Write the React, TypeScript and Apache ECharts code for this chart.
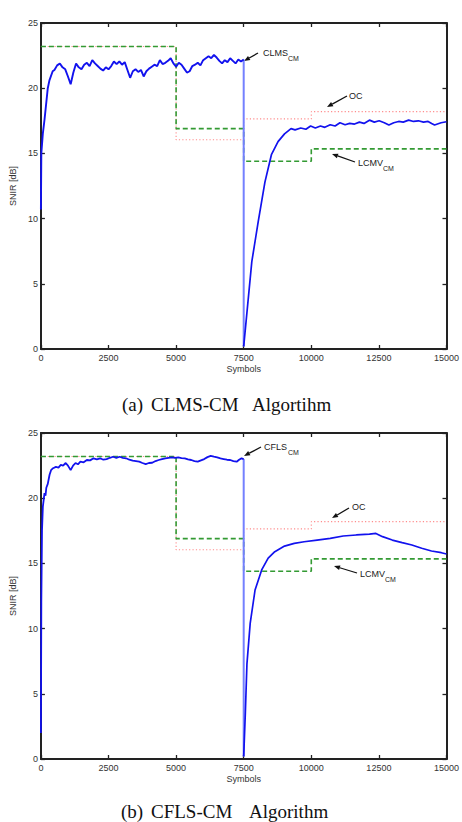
import React, { useEffect, useRef } from "react";
import * as echarts from "echarts";

// ---------- data ----------
const xTicks = [0, 2500, 5000, 7500, 10000, 12500, 15000];
const yTicks = [0, 5, 10, 15, 20, 25];

// (a) CLMS-CM
const clmsStart: [number, number][] = [
  [0, 10.7], [15, 15.0], [70, 16.5], [134, 17.6], [254, 20.0], [315, 20.6], [435, 21.3],
];
const clmsGridFirst = 500;
const clmsGridStep = 100;
const clmsNoisy = [
  21.4, 21.75, 21.9, 21.6, 21.45, 20.9, 20.3, 21.2, 21.9, 21.6,
  21.45, 21.8, 21.95, 21.7, 22.15, 21.9, 21.7, 21.5, 21.35, 21.6,
  21.45, 21.7, 22.05, 21.85, 22.05, 21.8, 22.0, 21.4, 20.8, 21.3,
  21.45, 21.25, 21.4, 20.9, 21.3, 21.5, 21.65, 21.8, 21.7, 22.15,
  21.85, 21.95, 22.1, 22.3, 21.9, 21.65, 21.95, 21.8, 21.5, 21.2,
  21.3, 21.7, 21.8, 21.95, 21.75, 22.15, 22.3, 22.45, 22.3, 22.55,
  22.35, 22.1, 21.9, 22.15, 22.0, 22.3, 22.1, 21.9, 22.2, 22.05,
  22.2,
];
const clmsRecovery: [number, number][] = [
  [7500, 0.2], [7800, 6.7], [8040, 9.8], [8285, 12.8], [8525, 14.9], [8770, 15.9],
  [9010, 16.5], [9250, 16.9], [9400, 16.8], [9610, 16.95], [9800, 16.85], [9975, 17.1],
  [10150, 16.95], [10340, 17.1], [10500, 17.0], [10700, 17.2], [10880, 17.1], [11060, 17.35],
  [11250, 17.2], [11420, 17.3], [11600, 17.25], [11780, 17.4], [11950, 17.3], [12150, 17.55],
  [12330, 17.4], [12510, 17.5], [12700, 17.35], [12870, 17.18], [13050, 17.35], [13230, 17.45],
  [13400, 17.4], [13600, 17.55], [13780, 17.45], [13960, 17.5], [14150, 17.4], [14320, 17.45],
  [14450, 17.3], [14560, 17.18], [14800, 17.35], [15000, 17.43],
];

// (b) CFLS-CM
const cflsFirst: [number, number][] = [
  [0, 2.0], [15, 12.0], [40, 17.5], [72, 19.35], [110, 20.0], [133, 20.4], [170, 20.2],
  [200, 20.8], [254, 21.1], [320, 21.8], [375, 22.15], [450, 22.3], [555, 22.4], [650, 22.35],
  [735, 22.55], [820, 22.5], [917, 22.7], [1000, 22.5], [1100, 22.15], [1190, 22.5],
  [1280, 22.7], [1370, 22.6], [1460, 22.8], [1580, 22.75], [1700, 22.93], [1820, 22.9],
  [1945, 23.06], [2070, 22.98], [2190, 23.06], [2310, 22.95], [2430, 23.0], [2550, 23.1],
  [2670, 23.18], [2790, 23.1], [2910, 23.18], [3030, 23.1], [3150, 23.06], [3270, 22.95],
  [3395, 22.88], [3515, 22.85], [3635, 22.8], [3755, 22.7], [3876, 22.62], [3995, 22.7],
  [4116, 22.72], [4240, 22.85], [4358, 22.93], [4480, 23.0], [4600, 23.06], [4720, 23.1],
  [4840, 23.13], [4960, 23.1], [5080, 23.13], [5200, 23.08], [5320, 23.06], [5440, 22.98],
  [5560, 22.93], [5680, 22.85], [5800, 22.8], [5920, 22.9], [6040, 23.0], [6160, 23.15],
  [6280, 23.24], [6400, 23.18], [6520, 23.13], [6640, 23.05], [6760, 23.0], [6880, 22.95],
  [7000, 22.93], [7120, 22.85], [7240, 22.8], [7330, 22.95], [7420, 23.06], [7500, 23.0],
];
const cflsRecovery: [number, number][] = [
  [7500, 0.2], [7560, 3.5], [7620, 7.3], [7740, 10.4], [7920, 12.96], [8165, 14.5],
  [8405, 15.4], [8650, 15.9], [9010, 16.33], [9370, 16.54], [9735, 16.66], [10215, 16.79],
  [10700, 16.92], [11180, 17.1], [11665, 17.18], [12150, 17.25], [12390, 17.3], [12635, 17.05],
  [12995, 16.79], [13360, 16.59], [13720, 16.41], [14085, 16.16], [14445, 15.95], [14810, 15.82],
  [15000, 15.72],
];

// reference levels (same in both panels), step changes at block boundaries
const ocSteps: [number, number][] = [[0, 23.2], [5000, 16.05], [7500, 17.65], [10000, 18.2], [15000, 18.2]];
const lcmvSteps: [number, number][] = [[0, 23.2], [5000, 16.9], [7500, 14.4], [10000, 15.35], [15000, 15.35]];

// ---------- helpers ----------
const SANS = "'Liberation Sans', Arial, Helvetica, sans-serif";
const SERIF = "'Liberation Serif', 'Times New Roman', serif";
const AXIS = "#222";

function xAxisDef(gridIndex: number, position: "bottom" | "top", labels: boolean) {
  return {
    type: "value",
    gridIndex,
    position,
    min: 0,
    max: 15000,
    interval: 2500,
    axisLine: { show: true, onZero: false, lineStyle: { color: AXIS, width: 2 } },
    axisTick: { show: true, inside: true, length: 4, lineStyle: { color: AXIS, width: 1.3 } },
    axisLabel: {
      show: labels,
      margin: 4,
      fontSize: 9,
      color: "#333",
      fontFamily: SANS,
      formatter: (v: number) => (xTicks.includes(v) ? String(v) : ""),
    },
    splitLine: { show: false },
    name: labels ? "Symbols" : "",
    nameLocation: "middle",
    nameGap: 15,
    nameTextStyle: { fontSize: 9, color: "#333", fontFamily: SANS },
  };
}

function yAxisDef(gridIndex: number, position: "left" | "right", labels: boolean) {
  return {
    type: "value",
    gridIndex,
    position,
    min: 0,
    max: 25,
    interval: 5,
    axisLine: { show: true, onZero: false, lineStyle: { color: AXIS, width: 2 } },
    axisTick: { show: true, inside: true, length: 4, lineStyle: { color: AXIS, width: 1.3 } },
    axisLabel: {
      show: labels,
      margin: 3,
      fontSize: 9,
      color: "#333",
      fontFamily: SANS,
      formatter: (v: number) => (yTicks.includes(v) ? String(v) : ""),
    },
    splitLine: { show: false },
    name: labels ? "SNIR [dB]" : "",
    nameLocation: "middle",
    nameRotate: 90,
    nameGap: 17,
    nameTextStyle: { fontSize: 9, color: "#333", fontFamily: SANS },
  };
}

function lineSeries(data: [number, number][], idx: number, color: string, width: number, type: any, step?: string, z = 2) {
  return {
    type: "line",
    xAxisIndex: idx,
    yAxisIndex: idx,
    data,
    showSymbol: false,
    symbol: "none",
    step: step || false,
    z,
    lineStyle: { color, width, type },
    emphasis: { disabled: true },
  };
}

function arrow(x1: number, y1: number, x2: number, y2: number) {
  const dx = x2 - x1;
  const dy = y2 - y1;
  const len = Math.hypot(dx, dy);
  const ux = dx / len;
  const uy = dy / len;
  const hl = 6;
  const hw = 2.4;
  const bx = x2 - ux * hl;
  const by = y2 - uy * hl;
  return [
    { type: "line", shape: { x1, y1, x2: bx, y2: by }, style: { stroke: "#111", lineWidth: 1.3 } },
    {
      type: "polygon",
      shape: { points: [[x2, y2], [bx - uy * hw, by + ux * hw], [bx + uy * hw, by - ux * hw]] },
      style: { fill: "#111" },
    },
  ];
}

function label(x: number, y: number, main: string, sub?: string, subX?: number) {
  const items: any[] = [
    { type: "text", x, y, style: { text: main, fontSize: 9, fontFamily: SANS, fill: "#222", align: "left", verticalAlign: "middle" } },
  ];
  if (sub) {
    items.push({
      type: "text",
      x: subX,
      y: y + 5,
      style: { text: sub, fontSize: 7, fontFamily: SANS, fill: "#222", align: "left", verticalAlign: "middle" },
    });
  }
  return items;
}

function caption(y: number, parts: [number, string][]) {
  return parts.map(([x, t]) => ({
    type: "text",
    x,
    y,
    style: { text: t, fontSize: 19, fontFamily: SERIF, fill: "#111", align: "left", verticalAlign: "middle" },
  }));
}

export default function App() {
  const ref = useRef<HTMLDivElement>(null);

  useEffect(() => {
    if (!ref.current) return;
    const chart = echarts.init(ref.current, undefined, { renderer: "svg" });

    const clmsFirst: [number, number][] = [
      ...clmsStart,
      ...clmsNoisy.map((v, i) => [clmsGridFirst + i * clmsGridStep, v] as [number, number]),
    ];
    const clmsDrop: [number, number][] = [clmsFirst[clmsFirst.length - 1], clmsRecovery[0]];
    const cflsDrop: [number, number][] = [cflsFirst[cflsFirst.length - 1], cflsRecovery[0]];

    const BLUE = "#1212ee";
    const BLUE_LIGHT = "#7480ff";
    const GREEN = "#339a33";
    const RED = "#ff8c8c";

    const series: any[] = [];
    [0, 2].forEach((idx) => {
      series.push(lineSeries(ocSteps, idx, RED, 1.1, [1.2, 2.2], "end", 1));
      series.push(lineSeries(lcmvSteps, idx, GREEN, 1.6, [5, 3], "end", 2));
    });
    series.push(lineSeries(clmsFirst, 0, BLUE, 1.9, "solid", undefined, 4));
    series.push(lineSeries(clmsDrop, 0, BLUE_LIGHT, 2, "solid", undefined, 3));
    series.push(lineSeries(clmsRecovery, 0, BLUE, 1.7, "solid", undefined, 4));
    series.push(lineSeries(cflsFirst, 2, BLUE, 1.8, "solid", undefined, 4));
    series.push(lineSeries(cflsDrop, 2, BLUE_LIGHT, 2, "solid", undefined, 3));
    series.push(lineSeries(cflsRecovery, 2, BLUE, 1.7, "solid", undefined, 4));

    const graphics: any[] = [
      ...arrow(258, 53, 244, 61),
      ...label(263, 53, "CLMS", "CM", 288),
      ...arrow(347, 96, 327, 107),
      ...label(349, 96, "OC"),
      ...arrow(355, 162, 332, 154),
      ...label(358, 163, "LCMV", "CM", 383),
      ...arrow(261, 447, 244, 456),
      ...label(264, 447, "CFLS", "CM", 288),
      ...arrow(349, 508, 332, 518),
      ...label(352, 507, "OC"),
      ...arrow(357, 573, 334, 566),
      ...label(360, 574, "LCMV", "CM", 385),
      ...caption(404, [[122, "(a)"], [151, "CLMS-CM"], [252, "Algortihm"]]),
      ...caption(811, [[121, "(b)"], [151, "CFLS-CM"], [249, "Algorithm"]]),
    ];

    chart.setOption({
      animation: false,
      backgroundColor: "#ffffff",
      grid: [
        { left: 33, top: 23, width: 414, height: 326, containLabel: false },
        { left: 33, top: 433, width: 414, height: 326, containLabel: false },
      ],
      xAxis: [xAxisDef(0, "bottom", true), xAxisDef(0, "top", false), xAxisDef(1, "bottom", true), xAxisDef(1, "top", false)],
      yAxis: [yAxisDef(0, "left", true), yAxisDef(0, "right", false), yAxisDef(1, "left", true), yAxisDef(1, "right", false)],
      series,
      graphic: graphics,
    });

    return () => chart.dispose();
  }, []);

  return (
    <div
      ref={ref}
      style={{ position: "absolute", left: 0, top: 0, width: 462, height: 822, background: "#fff" }}
    />
  );
}
